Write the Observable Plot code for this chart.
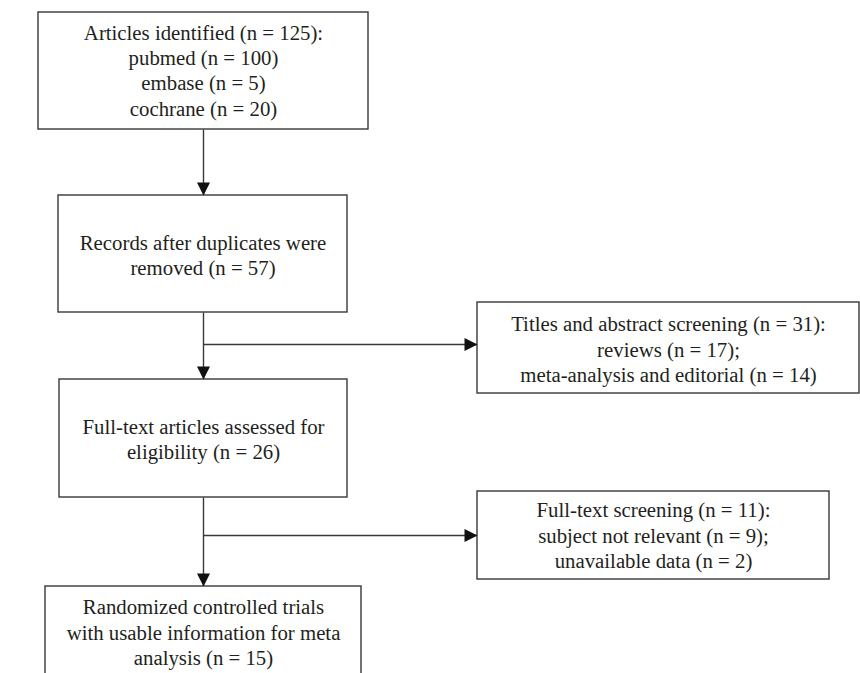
<!DOCTYPE html>
<html>
<head>
<meta charset="utf-8">
<script src="https://cdn.jsdelivr.net/npm/d3@7"></script>
<script src="https://cdn.jsdelivr.net/npm/@observablehq/plot@0.6"></script>
<style>
  html, body { margin: 0; padding: 0; background: #ffffff; }
  #chart svg { display: block; }
</style>
</head>
<body>
<div id="chart"></div>
<script>
// ---- content (values / text) ----
const stageLabels = [
  "Articles identified (n = 125):\npubmed (n = 100)\nembase (n = 5)\ncochrane (n = 20)",
  "Records after duplicates were\nremoved (n = 57)",
  "Full-text articles assessed for\neligibility (n = 26)",
  "Randomized controlled trials\nwith usable information for meta\nanalysis (n = 15)"
];
const exclusionLabels = [
  "Titles and abstract screening (n = 31):\nreviews (n = 17);\nmeta-analysis and editorial (n = 14)",
  "Full-text screening (n = 11):\nsubject not relevant (n = 9);\nunavailable data (n = 2)"
];

// ---- layout (positions in pixel units of the 860x673 frame) ----
const spineX = 203;
const stageLayout = [
  {x1: 38, x2: 368, y1: 12,  y2: 129, ty: 69},
  {x1: 58, x2: 347, y1: 195, y2: 312, ty: 254},
  {x1: 59, x2: 347, y1: 379, y2: 497, ty: 438},
  {x1: 45, x2: 361, y1: 586, y2: 690, ty: 631}
];
const exclusionLayout = [
  {x1: 477, x2: 859, y1: 302, y2: 393, ty: 348, by: 344},
  {x1: 477, x2: 829, y1: 491, y2: 579, ty: 534, by: 535}
];

const boxes = [
  ...stageLabels.map((label, i) => ({label, ...stageLayout[i]})),
  ...exclusionLabels.map((label, i) => ({label, ...exclusionLayout[i]}))
];

// connectors
const segments = [];
const tips = [];
for (let i = 0; i < stageLayout.length - 1; i++) {
  segments.push({x1: spineX, y1: stageLayout[i].y2, x2: spineX, y2: stageLayout[i + 1].y1});
  tips.push({x: spineX, y: stageLayout[i + 1].y1, angle: 180});
}
exclusionLayout.forEach(e => {
  segments.push({x1: spineX, y1: e.by, x2: e.x1, y2: e.by});
  tips.push({x: e.x1, y: e.by, angle: 90});
});

const ink = "#383838";
const headLen = 13, headHalf = 6.5;
const triangleHead = {
  draw(context, l) {
    context.moveTo(0, -l);
    context.lineTo(headHalf, 0);
    context.lineTo(-headHalf, 0);
    context.closePath();
  }
};

const chart = Plot.plot({
  width: 860,
  height: 673,
  margin: 0,
  x: {domain: [0, 860], range: [0, 860], axis: null},
  y: {domain: [0, 673], range: [0, 673], axis: null},
  style: {background: "#ffffff"},
  marks: [
    Plot.link(segments, {x1: "x1", y1: "y1", x2: "x2", y2: "y2", stroke: ink, strokeWidth: 1.4}),
    Plot.rect(boxes, {x1: "x1", x2: "x2", y1: "y1", y2: "y2", fill: "#ffffff", stroke: ink, strokeWidth: 1.4}),
    Plot.vector(tips, {x: "x", y: "y", rotate: "angle", length: headLen, anchor: "end",
      shape: triangleHead, fill: "#111111", stroke: "none"}),
    Plot.text(boxes, {
      x: d => (d.x1 + d.x2) / 2, y: "ty", text: "label",
      fontFamily: "Liberation Serif", fontSize: 20.8, lineHeight: 1.22,
      fill: "#231f20", textAnchor: "middle"
    })
  ]
});
document.getElementById("chart").appendChild(chart);
</script>
</body>
</html>
